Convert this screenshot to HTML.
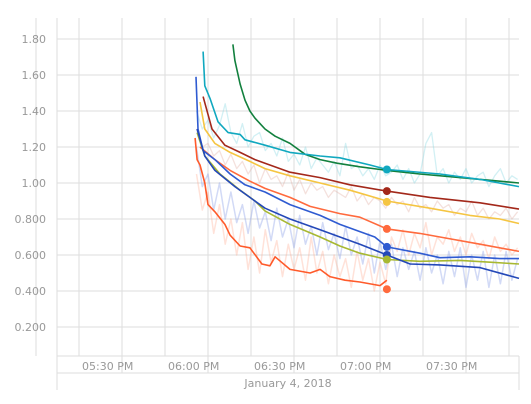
<!DOCTYPE html>
<html><head><meta charset="utf-8"><style>
html,body{margin:0;padding:0;background:#fff;}
svg{display:block;font-family:"DejaVu Sans","Liberation Sans",sans-serif;}
</style></head><body>
<svg id="c" width="531" height="404"></svg>
<script>
const yTicks=[0.2,0.4,0.6,0.8,1.0,1.2,1.4,1.6,1.8];
const yTickLabels=["0.200","0.400","0.600","0.800","1.00","1.20","1.40","1.60","1.80"];
const xGridMinutes=[-15,0,15,30,45,60,75,90,105,120,135,150];
const xTickMinutes=[0,30,60,90,120];
const xTickLabels=["05:30 PM","06:00 PM","06:30 PM","07:00 PM","07:30 PM"];
const dateLabel="January 4, 2018";
const greenT=[53.7,54.4,56.2,57.9,59.6,61.4,64.9,68.4,73.6,78.8,84.1,90,98,107.4,118.9,132.9,146.8,153.5];
const greenV=[1.77,1.68,1.55,1.46,1.40,1.36,1.30,1.26,1.22,1.16,1.13,1.11,1.09,1.07,1.05,1.03,1.01,1.00];
const cyanT=[43.3,43.9,45.7,48.5,52,56.2,57.9,64.9,73.6,84.1,91,101.5,107.4,125.9,139.9,153.5];
const cyanV=[1.73,1.54,1.47,1.34,1.28,1.27,1.24,1.21,1.17,1.15,1.14,1.10,1.075,1.05,1.02,0.98];
const redT=[43.3,46.4,50.9,56.2,61.4,64.9,73.6,84.1,94.5,107.4,122.4,139.9,153.5];
const redV=[1.48,1.30,1.21,1.17,1.13,1.11,1.06,1.03,0.99,0.955,0.92,0.89,0.855];
const yellowT=[42.2,43.9,47.4,52.7,59.6,64.9,73.6,84.1,94.5,107.4,122.4,136.4,146.8,153.5];
const yellowV=[1.45,1.30,1.22,1.17,1.12,1.08,1.04,1.00,0.96,0.90,0.86,0.82,0.80,0.775];
const orangeT=[42.2,47.4,52.7,59.6,64.9,73.6,80.6,91,98,107.4,118.9,125.9,139.9,153.5];
const orangeV=[1.20,1.13,1.07,1.01,0.97,0.92,0.87,0.83,0.81,0.745,0.72,0.70,0.66,0.62];
const blue1T=[40.8,41.5,43.3,47.4,52.7,57.9,64.9,73.6,84.1,91,98,103.2,107.4,118.9,125.9,136.4,146.8,153.5];
const blue1V=[1.59,1.30,1.18,1.13,1.05,0.99,0.95,0.88,0.82,0.77,0.73,0.70,0.645,0.61,0.585,0.59,0.58,0.58];
const blue2T=[41.2,43.9,47.4,54.4,59.6,64.9,73.6,84.1,91,98,107.4,115.5,125.9,139.9,153.5];
const blue2V=[1.30,1.15,1.07,0.98,0.92,0.86,0.80,0.74,0.70,0.66,0.60,0.55,0.545,0.53,0.47];
const oliveT=[41.2,43.9,49.2,56.2,61.4,64.9,73.6,84.1,91,98,107.4,118.9,132.9,143.4,153.5];
const oliveV=[1.28,1.15,1.05,0.96,0.90,0.845,0.77,0.70,0.65,0.61,0.575,0.565,0.57,0.56,0.55];
const lowT=[40.5,41.2,42.2,43.9,45,47.4,50.9,52.7,56.2,59.6,63.8,66.6,68.4,73.6,80.6,84.1,87.5,92.8,98,105,107.4];
const lowV=[1.25,1.13,1.10,1.00,0.88,0.84,0.77,0.71,0.65,0.64,0.55,0.54,0.59,0.52,0.50,0.52,0.48,0.46,0.45,0.43,0.46];
const markerV=[1.075,0.955,0.895,0.745,0.645,0.60,0.575,0.41];
const faintT=[41,43,45,47,49,51,53,55,57,59,61,63,65,67,69,71,73,75,77,79,81,83,85,87,89,91,93,95,97,99,101,103,105,107,109,111,113,115,117,119,121,123,125,127,129,131,133,135,137,139,141,143,145,147,149,151,153];
const faintBlueV=[1.20,0.98,1.05,0.85,1.00,0.80,0.95,0.78,0.88,0.72,0.90,0.75,0.84,0.68,0.86,0.70,0.80,0.64,0.82,0.66,0.76,0.60,0.78,0.63,0.72,0.58,0.76,0.60,0.70,0.55,0.72,0.50,0.68,0.52,0.66,0.48,0.64,0.52,0.62,0.46,0.64,0.50,0.60,0.44,0.62,0.48,0.64,0.42,0.60,0.46,0.62,0.42,0.60,0.44,0.62,0.46,0.58];
const faintOrangeV=[1.05,0.85,0.95,0.72,0.88,0.66,0.80,0.60,0.78,0.52,0.70,0.50,0.74,0.56,0.68,0.48,0.66,0.52,0.64,0.46,0.70,0.50,0.62,0.44,0.60,0.48,0.58,0.42,0.62,0.46,0.58,0.40,0.56,0.44,0.70,0.62,0.74,0.60,0.72,0.64,0.78,0.60,0.70,0.66,0.74,0.62,0.70,0.60,0.72,0.64,0.68,0.58,0.70,0.62,0.66,0.60,0.64];
const faintCyanV=[1.40,1.30,1.35,1.25,1.32,1.44,1.28,1.22,1.33,1.20,1.26,1.28,1.18,1.22,1.15,1.25,1.12,1.16,1.10,1.20,1.08,1.14,1.10,1.06,1.12,1.04,1.22,1.08,1.10,1.04,1.08,1.02,1.10,1.04,1.06,1.10,1.02,1.08,1.00,1.05,1.22,1.28,1.04,1.08,1.00,1.06,1.02,1.08,1.00,1.04,1.06,0.98,1.04,1.08,1.00,1.04,1.02];
const faintRedV=[1.30,1.20,1.22,1.15,1.18,1.10,1.16,1.08,1.12,1.05,1.10,1.00,1.08,1.02,1.04,0.98,1.06,0.96,1.02,0.94,1.00,0.96,0.98,0.92,0.96,0.94,0.92,0.98,0.90,0.94,0.88,0.92,0.90,0.86,0.92,0.88,0.90,0.84,0.92,0.86,0.88,0.84,0.90,0.86,0.88,0.82,0.86,0.84,0.90,0.82,0.86,0.80,0.84,0.82,0.86,0.80,0.84];

const svg=document.getElementById('c');const NS='http://www.w3.org/2000/svg';
const L=57,R=519,T=18,B=356;
function x(m){return 79+m*86/30;}
function y(v){return 363-v*180;}
function el(t,a,p){const e=document.createElementNS(NS,t);for(const k in a)e.setAttribute(k,a[k]);(p||svg).appendChild(e);return e;}
const grid=el('g',{});


yTicks.forEach((v,i)=>{
  el('line',{x1:L,x2:R,y1:y(v),y2:y(v),stroke:'#ddd','stroke-width':1},grid);
  const t=el('text',{x:46,y:y(v)+4,'text-anchor':'end','font-size':11,fill:'#999'});
  t.textContent=yTickLabels[i];
  
  
});
xGridMinutes.forEach(m=>{el('line',{x1:x(m),x2:x(m),y1:T,y2:B,stroke:'#ddd','stroke-width':1},grid);});
el('line',{x1:L,x2:L,y1:T,y2:390,stroke:'#ddd'});
el('line',{x1:L,x2:R,y1:B,y2:B,stroke:'#ddd'});
el('line',{x1:L,x2:R,y1:373,y2:373,stroke:'#ddd'});
el('line',{x1:R,x2:R,y1:B,y2:390,stroke:'#ddd'});
xTickMinutes.forEach(m=>{el('line',{x1:x(m)+43,x2:x(m)+43,y1:B,y2:373,stroke:'#ddd'});});
xTickMinutes.forEach((m,i)=>{
  const t=el('text',{x:x(m)+3,y:370,'font-size':11,fill:'#999'});
  t.textContent=xTickLabels[i];
  
  
});
const dl=el('text',{x:288,y:387,'text-anchor':'middle','font-size':11,fill:'#999'});
dl.textContent=dateLabel;


function line(T_,V,color,w,op,name){
  const d=T_.map((m,i)=>(i?'L':'M')+x(m).toFixed(1)+' '+y(V[i]).toFixed(1)).join(' ');
  const p=el('path',{d:d,fill:'none',stroke:color,'stroke-width':w,opacity:op,'stroke-linejoin':'round'});
  
  
}
line(faintT,faintBlueV,'#7d96e6',1.5,0.35,'faint-blue-series');
line(faintT,faintOrangeV,'#ff9f80',1.5,0.3,'faint-orange-series');
line(faintT,faintCyanV,'#7fd4e0',1.3,0.35,'faint-cyan-series');
line(faintT,faintRedV,'#d99a90',1.3,0.3,'faint-red-series');
line(greenT,greenV,'#12803e',1.6,1,'green-series');
line(cyanT,cyanV,'#10a8bf',1.6,1,'cyan-series');
line(redT,redV,'#a3281a',1.6,1,'dark-red-series');
line(yellowT,yellowV,'#f5c542',1.6,1,'yellow-series');
line(orangeT,orangeV,'#ff6a3d',1.6,1,'orange-series');
line(oliveT,oliveV,'#a8b832',1.6,1,'olive-series');
line(blue1T,blue1V,'#2f5bd1',1.6,1,'blue-series-1');
line(blue2T,blue2V,'#2448b8',1.6,1,'blue-series-2');
line(lowT,lowV,'#ff5a2a',1.6,1,'low-orange-series');
const mcol=['#10a8bf','#a3281a','#f5c542','#ff6a3d','#2f5bd1','#2448b8','#a8b832','#ff6a3d'];
markerV.forEach((v,i)=>{
  const c=el('circle',{cx:x(107.4),cy:y(v),r:4,fill:mcol[i]});
  
  
});
</script>
</body></html>
